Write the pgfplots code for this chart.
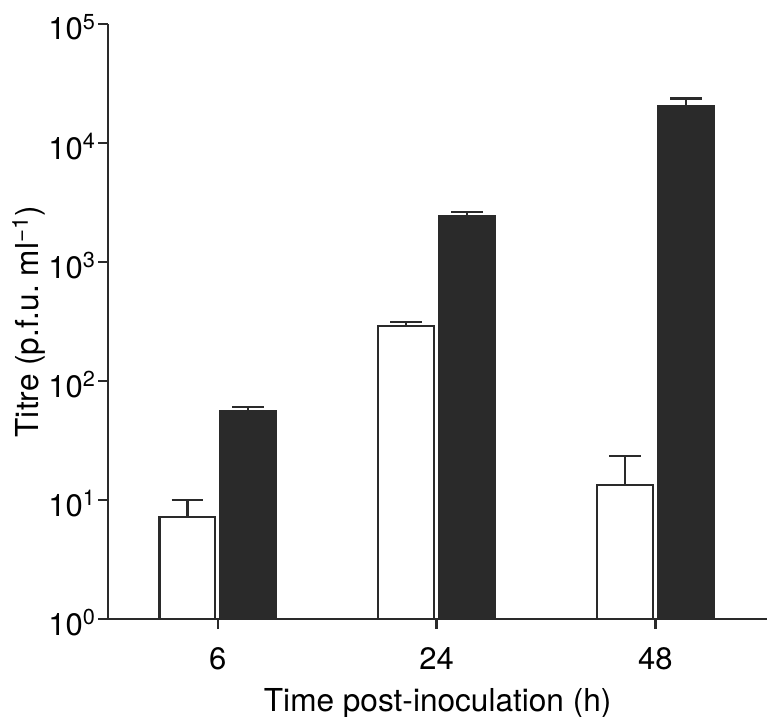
\documentclass[border=0pt]{standalone}
\usepackage{fontspec}
\setmainfont{TeX Gyre Heros}
\usepackage{pgfplots}
\pgfplotsset{compat=1.18}
\definecolor{ink}{RGB}{42,42,42}
\begin{document}
\begin{tikzpicture}
\useasboundingbox (0,0) rectangle (383.5pt,358.5pt);
\begin{axis}[
  at={(54.15pt,48.85pt)}, anchor=south west,
  scale only axis, width=329.4pt, height=297.65pt,
  ymode=log, log basis y=10, ymin=1, ymax=100000,
  xmin=-0.5, xmax=2.51,
  axis lines=left,
  axis line style={-, line width=1.2pt, ink},
  xtick={0,1,2}, xticklabels={6,24,48},
  ytick={1,10,100,1000,10000,100000},
  yticklabels={10\textsuperscript{0},10\textsuperscript{1},10\textsuperscript{2},10\textsuperscript{3},10\textsuperscript{4},10\textsuperscript{5}},
  yminorticks=false,
  tick align=outside, major tick length=5pt,
  major tick style={line width=1.2pt, ink},
  tick label style={font=\fontsize{15.5}{18}\selectfont, text=black},
  yticklabel style={inner sep=0pt, anchor=base east, xshift=-1pt, yshift=-8pt},
  xticklabel style={inner sep=0pt, anchor=base, yshift=-20pt},
  bar width=0.255,
  xlabel={Time post-inoculation (h)},
  ylabel={Titre (p.f.u.\ ml\textsuperscript{−1})},
  xlabel style={at={(rel axis cs:0.5,0)}, anchor=base, inner sep=0pt, yshift=-46pt, font=\fontsize{15.8}{18}\selectfont},
  ylabel style={at={([xshift=-35pt]rel axis cs:0,0.5)}, anchor=base, inner sep=0pt, rotate=0, font=\fontsize{15.8}{18}\selectfont},
  clip=false,
]
% white bars (left of each tick)
\addplot[ybar, bar shift=0pt, fill=white, draw=ink, line width=1.2pt,
  error bars/.cd, y dir=plus, y explicit,
  error bar style={ink, line width=1.2pt},
  error mark options={rotate=90, mark size=7.9pt, ink, line width=1.2pt}]
  coordinates {(-0.139,7.23) +- (0,2.77) (0.861,290.6) +- (0,23.4) (1.861,13.4) +- (0,10.0)};
% black bars (right of each tick)
\addplot[ybar, bar shift=0pt, fill=ink, draw=ink, line width=1pt,
  error bars/.cd, y dir=plus, y explicit,
  error bar style={ink, line width=1.2pt},
  error mark options={rotate=90, mark size=7.9pt, ink, line width=1.2pt}]
  coordinates {(0.139,55.8) +- (0,4.6) (1.139,2455) +- (0,195) (2.139,20480) +- (0,3120)};
\end{axis}
\end{tikzpicture}
\end{document}
